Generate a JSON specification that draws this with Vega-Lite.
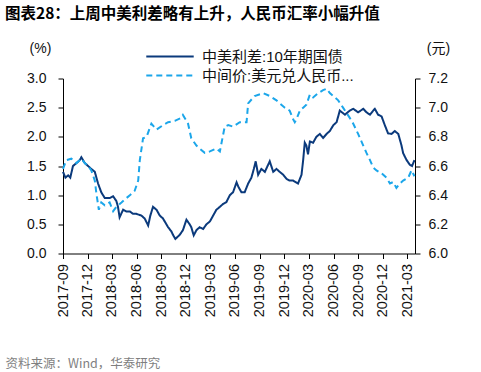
{
  "$schema": "https://vega.github.io/schema/vega-lite/v6.json",
  "width": 352,
  "height": 175,
  "autosize": {"type": "pad"},
  "padding": {"left": 5, "top": 6.5, "right": 4, "bottom": 0},
  "title": {
    "text": "图表28：上周中美利差略有上升，人民币汇率小幅升值",
    "anchor": "start",
    "frame": "bounds",
    "dx": 0,
    "font": "Noto Sans CJK SC",
    "fontSize": 15.5,
    "fontWeight": "bold",
    "color": "#000000",
    "offset": 8.8
  },
  "datasets": {
    "spread": [
      {"date": "2017-09-01", "v": 1.40},
      {"date": "2017-09-10", "v": 1.30},
      {"date": "2017-09-20", "v": 1.34},
      {"date": "2017-09-28", "v": 1.30},
      {"date": "2017-10-08", "v": 1.50},
      {"date": "2017-10-21", "v": 1.55},
      {"date": "2017-11-02", "v": 1.60},
      {"date": "2017-11-08", "v": 1.65},
      {"date": "2017-11-21", "v": 1.55},
      {"date": "2017-12-03", "v": 1.50},
      {"date": "2017-12-15", "v": 1.45},
      {"date": "2017-12-28", "v": 1.40},
      {"date": "2018-01-03", "v": 1.30},
      {"date": "2018-01-09", "v": 1.20},
      {"date": "2018-01-21", "v": 1.05},
      {"date": "2018-02-03", "v": 0.95},
      {"date": "2018-02-21", "v": 0.95},
      {"date": "2018-03-06", "v": 0.98},
      {"date": "2018-03-18", "v": 0.90},
      {"date": "2018-03-24", "v": 0.80},
      {"date": "2018-03-30", "v": 0.62},
      {"date": "2018-04-12", "v": 0.75},
      {"date": "2018-04-24", "v": 0.72},
      {"date": "2018-05-07", "v": 0.72},
      {"date": "2018-05-19", "v": 0.68},
      {"date": "2018-05-31", "v": 0.68},
      {"date": "2018-06-19", "v": 0.65},
      {"date": "2018-07-01", "v": 0.60},
      {"date": "2018-07-14", "v": 0.48},
      {"date": "2018-07-22", "v": 0.65},
      {"date": "2018-08-01", "v": 0.80},
      {"date": "2018-08-14", "v": 0.75},
      {"date": "2018-08-26", "v": 0.65},
      {"date": "2018-09-07", "v": 0.60},
      {"date": "2018-09-26", "v": 0.45},
      {"date": "2018-10-08", "v": 0.38},
      {"date": "2018-10-14", "v": 0.32},
      {"date": "2018-10-23", "v": 0.25},
      {"date": "2018-11-08", "v": 0.32},
      {"date": "2018-11-20", "v": 0.40},
      {"date": "2018-12-03", "v": 0.58},
      {"date": "2018-12-15", "v": 0.50},
      {"date": "2018-12-21", "v": 0.45},
      {"date": "2018-12-30", "v": 0.31},
      {"date": "2019-01-09", "v": 0.40},
      {"date": "2019-01-21", "v": 0.45},
      {"date": "2019-02-03", "v": 0.42},
      {"date": "2019-02-15", "v": 0.50},
      {"date": "2019-02-28", "v": 0.55},
      {"date": "2019-03-12", "v": 0.65},
      {"date": "2019-03-24", "v": 0.75},
      {"date": "2019-04-06", "v": 0.80},
      {"date": "2019-04-18", "v": 0.85},
      {"date": "2019-04-30", "v": 0.88},
      {"date": "2019-05-13", "v": 1.00},
      {"date": "2019-05-25", "v": 1.05},
      {"date": "2019-06-07", "v": 1.22},
      {"date": "2019-06-13", "v": 1.15},
      {"date": "2019-06-25", "v": 1.05},
      {"date": "2019-07-07", "v": 1.05},
      {"date": "2019-07-20", "v": 1.20},
      {"date": "2019-08-01", "v": 1.30},
      {"date": "2019-08-10", "v": 1.45},
      {"date": "2019-08-17", "v": 1.58},
      {"date": "2019-08-26", "v": 1.35},
      {"date": "2019-09-07", "v": 1.45},
      {"date": "2019-09-20", "v": 1.40},
      {"date": "2019-10-08", "v": 1.58},
      {"date": "2019-10-21", "v": 1.40},
      {"date": "2019-11-02", "v": 1.45},
      {"date": "2019-11-14", "v": 1.40},
      {"date": "2019-11-27", "v": 1.35},
      {"date": "2019-12-09", "v": 1.28},
      {"date": "2019-12-21", "v": 1.25},
      {"date": "2020-01-03", "v": 1.25},
      {"date": "2020-01-21", "v": 1.20},
      {"date": "2020-02-03", "v": 1.35},
      {"date": "2020-02-09", "v": 1.60},
      {"date": "2020-02-15", "v": 1.90},
      {"date": "2020-02-21", "v": 1.85},
      {"date": "2020-02-27", "v": 1.70},
      {"date": "2020-03-05", "v": 1.92},
      {"date": "2020-03-17", "v": 1.90},
      {"date": "2020-03-29", "v": 2.00},
      {"date": "2020-04-11", "v": 2.05},
      {"date": "2020-04-23", "v": 1.98},
      {"date": "2020-05-06", "v": 2.05},
      {"date": "2020-05-18", "v": 2.10},
      {"date": "2020-05-31", "v": 2.20},
      {"date": "2020-06-12", "v": 2.25},
      {"date": "2020-06-24", "v": 2.45},
      {"date": "2020-07-13", "v": 2.38},
      {"date": "2020-07-31", "v": 2.45},
      {"date": "2020-08-13", "v": 2.48},
      {"date": "2020-08-31", "v": 2.42},
      {"date": "2020-09-19", "v": 2.48},
      {"date": "2020-10-01", "v": 2.42},
      {"date": "2020-10-14", "v": 2.38},
      {"date": "2020-10-26", "v": 2.45},
      {"date": "2020-11-01", "v": 2.48},
      {"date": "2020-11-13", "v": 2.38},
      {"date": "2020-11-26", "v": 2.35},
      {"date": "2020-12-08", "v": 2.20},
      {"date": "2020-12-20", "v": 2.06},
      {"date": "2021-01-02", "v": 2.05},
      {"date": "2021-01-14", "v": 2.10},
      {"date": "2021-01-27", "v": 2.05},
      {"date": "2021-02-08", "v": 1.85},
      {"date": "2021-02-14", "v": 1.72},
      {"date": "2021-02-27", "v": 1.60},
      {"date": "2021-03-11", "v": 1.52},
      {"date": "2021-03-19", "v": 1.50},
      {"date": "2021-03-28", "v": 1.60}
    ],
    "cny": [
      {"date": "2017-09-01", "v": 6.58},
      {"date": "2017-09-13", "v": 6.64},
      {"date": "2017-10-02", "v": 6.65},
      {"date": "2017-10-21", "v": 6.62},
      {"date": "2017-11-08", "v": 6.65},
      {"date": "2017-11-21", "v": 6.62},
      {"date": "2017-12-03", "v": 6.60},
      {"date": "2017-12-15", "v": 6.57},
      {"date": "2017-12-28", "v": 6.50},
      {"date": "2018-01-03", "v": 6.41},
      {"date": "2018-01-12", "v": 6.30},
      {"date": "2018-01-21", "v": 6.35},
      {"date": "2018-02-03", "v": 6.33},
      {"date": "2018-02-21", "v": 6.35},
      {"date": "2018-03-06", "v": 6.29},
      {"date": "2018-03-18", "v": 6.32},
      {"date": "2018-04-06", "v": 6.35},
      {"date": "2018-04-18", "v": 6.37},
      {"date": "2018-05-07", "v": 6.40},
      {"date": "2018-05-25", "v": 6.43},
      {"date": "2018-06-07", "v": 6.50},
      {"date": "2018-06-13", "v": 6.64},
      {"date": "2018-06-25", "v": 6.79},
      {"date": "2018-07-08", "v": 6.80},
      {"date": "2018-07-26", "v": 6.89},
      {"date": "2018-08-14", "v": 6.85},
      {"date": "2018-09-07", "v": 6.88},
      {"date": "2018-09-26", "v": 6.90},
      {"date": "2018-10-21", "v": 6.91},
      {"date": "2018-11-14", "v": 6.93},
      {"date": "2018-11-20", "v": 6.95},
      {"date": "2018-12-09", "v": 6.89},
      {"date": "2018-12-21", "v": 6.79},
      {"date": "2019-01-09", "v": 6.74},
      {"date": "2019-01-21", "v": 6.72},
      {"date": "2019-02-09", "v": 6.69},
      {"date": "2019-02-28", "v": 6.70},
      {"date": "2019-03-24", "v": 6.72},
      {"date": "2019-04-06", "v": 6.70},
      {"date": "2019-04-24", "v": 6.87},
      {"date": "2019-05-07", "v": 6.88},
      {"date": "2019-05-25", "v": 6.87},
      {"date": "2019-06-19", "v": 6.90},
      {"date": "2019-07-14", "v": 6.90},
      {"date": "2019-07-20", "v": 7.03},
      {"date": "2019-08-13", "v": 7.08},
      {"date": "2019-09-14", "v": 7.10},
      {"date": "2019-10-08", "v": 7.08},
      {"date": "2019-11-02", "v": 7.05},
      {"date": "2019-11-14", "v": 7.03},
      {"date": "2019-12-03", "v": 7.00},
      {"date": "2019-12-21", "v": 6.98},
      {"date": "2020-01-03", "v": 6.92},
      {"date": "2020-01-09", "v": 6.90},
      {"date": "2020-01-15", "v": 6.92},
      {"date": "2020-01-28", "v": 6.98},
      {"date": "2020-02-09", "v": 7.00},
      {"date": "2020-02-21", "v": 7.02},
      {"date": "2020-03-05", "v": 7.09},
      {"date": "2020-03-17", "v": 7.07},
      {"date": "2020-04-05", "v": 7.10},
      {"date": "2020-04-23", "v": 7.12},
      {"date": "2020-05-06", "v": 7.13},
      {"date": "2020-05-18", "v": 7.10},
      {"date": "2020-05-31", "v": 7.08},
      {"date": "2020-06-18", "v": 7.05},
      {"date": "2020-07-06", "v": 7.00},
      {"date": "2020-07-31", "v": 6.93},
      {"date": "2020-08-13", "v": 6.89},
      {"date": "2020-08-31", "v": 6.82},
      {"date": "2020-09-19", "v": 6.74},
      {"date": "2020-10-01", "v": 6.69},
      {"date": "2020-10-14", "v": 6.64},
      {"date": "2020-10-26", "v": 6.59},
      {"date": "2020-11-07", "v": 6.57},
      {"date": "2020-11-26", "v": 6.55},
      {"date": "2020-12-14", "v": 6.52},
      {"date": "2020-12-27", "v": 6.48},
      {"date": "2021-01-08", "v": 6.49},
      {"date": "2021-01-20", "v": 6.45},
      {"date": "2021-02-02", "v": 6.48},
      {"date": "2021-02-14", "v": 6.50},
      {"date": "2021-03-05", "v": 6.52},
      {"date": "2021-03-17", "v": 6.57},
      {"date": "2021-03-28", "v": 6.53}
    ]
  },
  "layer": [
    {
      "data": {"name": "spread"},
      "mark": {"type": "line", "strokeWidth": 2, "color": "#0b3a7c"},
      "encoding": {
        "x": {
          "field": "date",
          "type": "temporal",
          "scale": {"type": "utc", "domain": [{"year": 2017, "month": 9, "date": 1, "utc": true}, {"year": 2021, "month": 3, "date": 30, "utc": true}]},
          "axis": {
            "orient": "bottom",
            "format": "%Y-%m",
            "labelAngle": -90,
            "labelPadding": 5,
            "labelFontSize": 14.5,
            "values": [
              {"year": 2017, "month": 9, "date": 1, "utc": true},
              {"year": 2017, "month": 12, "date": 1, "utc": true},
              {"year": 2018, "month": 3, "date": 1, "utc": true},
              {"year": 2018, "month": 6, "date": 1, "utc": true},
              {"year": 2018, "month": 9, "date": 1, "utc": true},
              {"year": 2018, "month": 12, "date": 1, "utc": true},
              {"year": 2019, "month": 3, "date": 1, "utc": true},
              {"year": 2019, "month": 6, "date": 1, "utc": true},
              {"year": 2019, "month": 9, "date": 1, "utc": true},
              {"year": 2019, "month": 12, "date": 1, "utc": true},
              {"year": 2020, "month": 3, "date": 1, "utc": true},
              {"year": 2020, "month": 6, "date": 1, "utc": true},
              {"year": 2020, "month": 9, "date": 1, "utc": true},
              {"year": 2020, "month": 12, "date": 1, "utc": true},
              {"year": 2021, "month": 3, "date": 1, "utc": true}
            ],
            "title": "资料来源：Wind，华泰研究",
            "titleFont": "Noto Sans CJK SC",
            "titleFontSize": 12.5,
            "titleFontWeight": "normal",
            "titleColor": "#7f7f7f",
            "titleAlign": "left",
            "titleAnchor": null,
            "titleBaseline": "alphabetic",
            "titleX": -58,
            "titleY": 114
          }
        },
        "y": {
          "field": "v",
          "type": "quantitative",
          "scale": {"domain": [0, 3], "nice": false, "zero": false},
          "axis": {
            "values": [0, 0.5, 1, 1.5, 2, 2.5, 3],
            "format": ".1f",
            "labelPadding": 12,
            "title": "(%)",
            "titleAngle": 0,
            "titleAlign": "center",
            "titleBaseline": "middle",
            "titleX": -23,
            "titleY": -30
          }
        },
        "strokeDash": {
          "datum": "中美利差:10年期国债",
          "scale": {"domain": ["中美利差:10年期国债"], "range": [[1, 0]]},
          "legend": {"legendX": 82, "legendY": -47, "symbolStrokeColor": "#0b3a7c"}
        }
      }
    },
    {
      "data": {"name": "cny"},
      "mark": {"type": "line", "strokeWidth": 2, "color": "#1ba6ea"},
      "encoding": {
        "x": {"field": "date", "type": "temporal", "axis": null},
        "y": {
          "field": "v",
          "type": "quantitative",
          "scale": {"domain": [6, 7.2], "nice": false, "zero": false},
          "axis": {
            "orient": "right",
            "values": [6, 6.2, 6.4, 6.6, 6.8, 7, 7.2],
            "format": ".1f",
            "labelPadding": 8,
            "title": "(元)",
            "titleAngle": 0,
            "titleAlign": "center",
            "titleBaseline": "middle",
            "titleX": 23,
            "titleY": -30
          }
        },
        "strokeDash": {
          "datum": "中间价:美元兑人民币...",
          "scale": {"domain": ["中间价:美元兑人民币..."], "range": [[6, 4]]},
          "legend": {"legendX": 82, "legendY": -28, "symbolStrokeColor": "#1ba6ea"}
        }
      }
    }
  ],
  "resolve": {
    "scale": {"y": "independent", "strokeDash": "independent"},
    "axis": {"x": "independent"},
    "legend": {"strokeDash": "independent"}
  },
  "config": {
    "view": {"stroke": null},
    "font": "Liberation Sans",
    "axis": {
      "grid": false,
      "domainColor": "#000000",
      "tickColor": "#000000",
      "tickSize": 5,
      "labelColor": "#111111",
      "labelFont": "Liberation Sans",
      "labelFontSize": 14,
      "titleFont": "Liberation Sans, Noto Sans CJK SC",
      "titleFontSize": 14,
      "titleFontWeight": "normal",
      "titleColor": "#111111"
    },
    "legend": {
      "orient": "none",
      "direction": "vertical",
      "title": null,
      "padding": 0,
      "symbolType": "stroke",
      "symbolSize": 2250,
      "symbolStrokeWidth": 2,
      "labelOffset": 7,
      "labelFont": "Liberation Sans, Noto Sans CJK SC",
      "labelFontSize": 15,
      "labelColor": "#111111"
    }
  }
}
